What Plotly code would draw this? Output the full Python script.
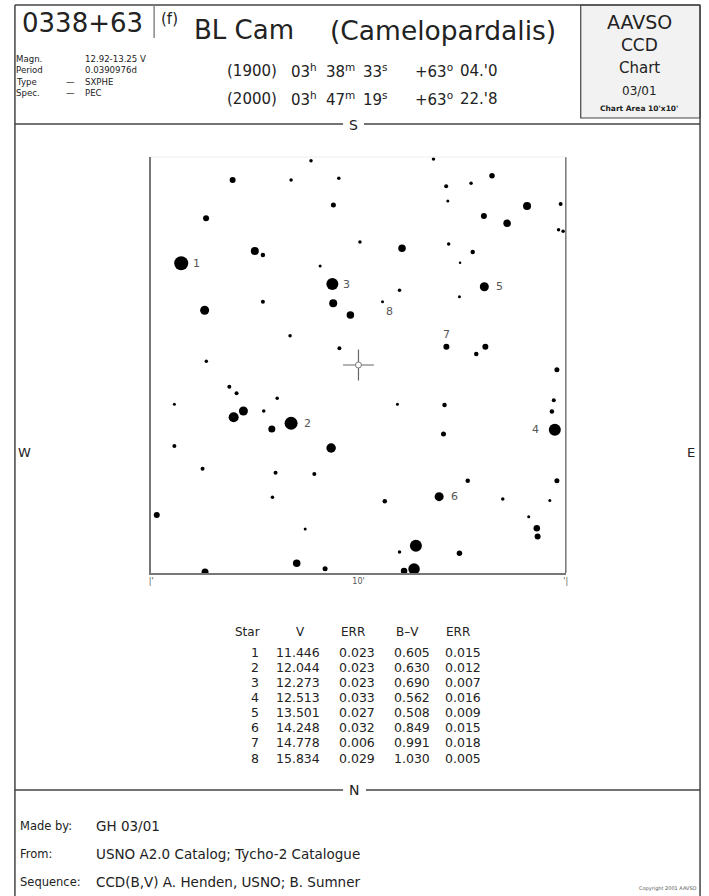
import plotly.graph_objects as go

# ---------------- data ----------------
# field stars: offsets in arcmin (x east->right, y from chart top), visual magnitude estimates
star_x = [7.71, 3.93, 6.75, 9.05, 8.79, 2.65, 10.07, 5.00, 5.39, 1.45,
          8.15, 8.74, 5.39, 8.78, 2.58, 9.61, 6.70, 9.08, 2.66, 13.62,
          16.44, 14.23, 15.43, 14.31, 18.13, 19.75, 16.05, 17.17, 19.65, 19.87,
          12.10, 14.35, 15.51, 14.90, 16.07, 11.98, 14.87, 11.16, 14.24, 16.12,
          15.68, 3.77, 4.12, 1.12, 6.08, 5.43, 4.45, 3.98, 5.82, 6.75,
          8.68, 1.12, 2.48, 6.00, 7.87, 5.85, 0.27, 7.43, 7.02, 8.39,
          2.60, 19.57, 11.88, 14.15, 19.42, 19.33, 19.47, 14.10, 15.27, 19.57,
          13.89, 11.27, 16.96, 19.23, 18.21, 18.60, 18.64, 12.77, 11.98, 14.87,
          12.68, 12.20]
star_y = [0.18, 1.11, 1.11, 1.02, 2.31, 2.95, 4.09, 4.52, 4.71, 5.11,
          5.24, 6.11, 6.96, 7.03, 7.37, 7.60, 8.59, 9.20, 9.82, 0.10,
          0.90, 1.41, 1.26, 2.12, 2.36, 2.26, 2.84, 3.19, 3.50, 3.57,
          4.39, 4.18, 4.57, 5.08, 6.24, 6.41, 6.72, 6.96, 9.12, 9.12,
          9.47, 11.04, 11.36, 11.89, 11.60, 12.21, 12.21, 12.51, 13.08, 12.80,
          13.99, 13.89, 14.99, 15.18, 15.24, 16.36, 17.21, 17.88, 19.53, 19.79,
          19.95, 10.23, 11.89, 11.92, 11.70, 12.23, 13.11, 13.32, 15.56, 15.56,
          16.33, 16.55, 16.44, 16.52, 17.29, 17.85, 18.25, 18.69, 18.99, 19.05,
          19.81, 19.90]
star_mag = [15.6, 14.6, 15.6, 15.6, 15.0, 14.6, 15.6, 13.8, 15.2, 11.4,
            15.8, 12.2, 15.4, 13.8, 13.4, 14.0, 15.6, 15.4, 15.6, 15.6,
            14.8, 15.4, 15.6, 15.8, 13.8, 15.4, 14.6, 14.0, 15.6, 15.6,
            14.0, 15.6, 15.2, 16.0, 13.4, 15.6, 15.8, 15.8, 14.6, 14.6,
            15.2, 15.4, 15.4, 15.8, 15.6, 15.6, 13.4, 13.0, 14.2, 11.8,
            13.2, 15.4, 15.4, 15.4, 15.4, 15.6, 14.6, 15.8, 14.0, 15.0,
            14.2, 15.0, 15.8, 15.2, 15.4, 15.2, 12.2, 15.0, 15.2, 15.0,
            13.4, 15.2, 15.6, 15.8, 15.8, 14.4, 14.6, 12.2, 15.6, 14.8,
            12.4, 14.4]

# variable star position (arcmin)
var_x = [10.0]
var_y = [10.0]

# comparison sequence
comp_ids = [1, 2, 3, 4, 5, 6, 7, 8]
comp_star_index = [9, 49, 11, 66, 34, 70, 38, 37]
comp_v = [11.446, 12.044, 12.273, 12.513, 13.501, 14.248, 14.778, 15.834]
comp_v_err = [0.023, 0.023, 0.023, 0.033, 0.027, 0.032, 0.006, 0.029]
comp_bv = [0.605, 0.630, 0.690, 0.562, 0.508, 0.849, 0.991, 1.030]
comp_bv_err = [0.015, 0.012, 0.007, 0.016, 0.009, 0.015, 0.018, 0.005]

x_tick_vals = [0, 10, 20]
x_tick_text = ["|'", "10'", "'|"]

# ---------------- styling helpers ----------------
W, H = 709, 896
FONT = "DejaVu Sans"
TXT = "#222222"
PAD = 3  # annotation inner padding compensation


def px(x):
    return x / W


def py(y):
    return 1 - y / H


def mag_to_size(m):
    return max(2.5, 14 - 2.5 * (m - 11.4))


label_offset = {1: (15, 0), 2: (16, 0), 3: (14, 0), 4: (-19, 0),
                5: (15, 0), 6: (15, 0), 7: (0, 12), 8: (7, -10)}

fig = go.Figure()

fig.add_trace(go.Scatter(
    x=star_x, y=star_y, mode="markers",
    marker=dict(size=[mag_to_size(m) for m in star_mag], color="black",
                opacity=1, line=dict(width=0)),
    hoverinfo="skip", showlegend=False))

# variable crosshair
fig.add_trace(go.Scatter(
    x=var_x, y=var_y, mode="markers",
    marker=dict(symbol="cross-thin-open", size=22, color="#666666",
                opacity=1, line=dict(color="#666666", width=1.2)),
    hoverinfo="skip", showlegend=False))
fig.add_trace(go.Scatter(
    x=var_x, y=var_y, mode="markers",
    marker=dict(symbol="circle", size=6, color="white", opacity=1,
                line=dict(color="#777777", width=1)),
    hoverinfo="skip", showlegend=False))

annotations = []


def txt(x, y, s, size, anchor="left", color=TXT, bold=False, family=FONT):
    if bold:
        s = "<b>" + s + "</b>"
    if anchor == "left":
        x = x - PAD
    elif anchor == "right":
        x = x + PAD
    annotations.append(dict(x=px(x), y=py(y), xref="paper", yref="paper",
                            text=s, showarrow=False, xanchor=anchor,
                            yanchor="middle", borderpad=0,
                            font=dict(family=family, size=size, color=color)))


# comparison labels on chart
for cid, idx in zip(comp_ids, comp_star_index):
    dx, dy = label_offset[cid]
    annotations.append(dict(x=star_x[idx], y=star_y[idx], xref="x", yref="y",
                            text=str(cid), showarrow=False, xshift=dx, yshift=dy,
                            font=dict(family=FONT, size=11, color="#555555")))

# header
txt(22, 23, "0338+63", 26)
txt(162, 19, "(f)", 15)
txt(195, 30, "BL Cam", 26)
txt(332, 30, "(Camelopardalis)", 26.5)

info_labels = ["Magn.", "Period", "Type", "Spec."]
info_values = ["12.92-13.25 V", "0.0390976d", "SXPHE", "PEC"]
info_dash = [False, False, True, True]
for i, (lab, val, d) in enumerate(zip(info_labels, info_values, info_dash)):
    yy = 59 + i * 11.3
    txt(16, yy, lab, 8.6)
    if d:
        txt(66, yy, "—", 8.6)
    txt(85, yy, val, 8.6)

ra_parts = [["03<sup>h</sup>", "38<sup>m</sup>", "33<sup>s</sup>"],
            ["03<sup>h</sup>", "47<sup>m</sup>", "19<sup>s</sup>"]]
dec_parts = [["+63<sup>o</sup>", "04.'0"], ["+63<sup>o</sup>", "22.'8"]]
epochs = ["(1900)", "(2000)"]
for i in range(2):
    yy = 71 + i * 28
    txt(228, yy, epochs[i], 15)
    for s, xx in zip(ra_parts[i], [293, 328, 365]):
        txt(xx, yy, s, 15)
    for s, xx in zip(dec_parts[i], [417, 463]):
        txt(xx, yy, s, 15)

txt(641, 22, "AAVSO", 19, "center")
txt(641, 45, "CCD", 17, "center")
txt(641, 68, "Chart", 15, "center")
txt(641, 91, "03/01", 12, "center")
txt(641, 108.5, "Chart Area 10'x10'", 7.5, "center", bold=True)

txt(353, 125, "S", 14, "center")
txt(354, 790, "N", 14, "center")
txt(18, 452, "W", 13)
txt(693, 452, "E", 13, "center")

# table
col_head = ["Star", "V", "ERR", "B–V", "ERR"]
col_head_x = [247, 300, 353, 408, 459]
col_right = [256, 318, 373, 428, 480]
for h, xx in zip(col_head, col_head_x):
    txt(xx, 632, h, 12, "center")
for i in range(len(comp_ids)):
    yy = 652 + i * 15.15
    vals = [str(comp_ids[i]), f"{comp_v[i]:.3f}", f"{comp_v_err[i]:.3f}",
            f"{comp_bv[i]:.3f}", f"{comp_bv_err[i]:.3f}"]
    for v, xr in zip(vals, col_right):
        txt(xr, yy, v, 12.5, "right")

# footer
foot_labels = ["Made by:", "From:", "Sequence:"]
foot_values = ["GH 03/01", "USNO A2.0 Catalog; Tycho-2 Catalogue",
               "CCD(B,V) A. Henden, USNO; B. Sumner"]
for i, (lab, val) in enumerate(zip(foot_labels, foot_values)):
    yy = 826 + i * 28
    txt(20, yy, lab, 11.5)
    txt(97, yy, val, 13.5)
txt(670, 888, "Copyright 2001 AAVSO", 5, "center", color="#555555")

# frame shapes (paper pixel coordinates)
shapes = []
LC = "#444444"


def line(x0, y0, x1, y1, color=LC, width=1.5):
    shapes.append(dict(type="line", xref="paper", yref="paper",
                       x0=px(x0), y0=py(y0), x1=px(x1), y1=py(y1),
                       line=dict(color=color, width=width)))


shapes.append(dict(type="rect", xref="paper", yref="paper",
                   x0=px(582), y0=py(118), x1=px(702), y1=py(5),
                   fillcolor="#f2f2f2", line=dict(color=LC, width=1.2),
                   layer="below"))
line(13, 5, 702, 5)
line(13, 5, 13, 896)
line(702, 5, 702, 896)
line(153, 5, 153, 38, color="#888888", width=1.5)
line(13, 124, 343, 124)
line(364, 124, 702, 124)
line(13, 790, 343, 790)
line(366, 790, 702, 790)

# plot area right and top borders
shapes.append(dict(type="line", xref="x domain", yref="y domain",
                   x0=1, x1=1, y0=0, y1=1,
                   line=dict(color="#777777", width=1.5)))
shapes.append(dict(type="line", xref="x domain", yref="y domain",
                   x0=0, x1=1, y0=1, y1=1,
                   line=dict(color="#eeeeee", width=1)))

fig.update_layout(
    width=W, height=H,
    margin=dict(l=0, r=0, t=0, b=0),
    paper_bgcolor="white", plot_bgcolor="white",
    annotations=annotations, shapes=shapes,
    xaxis=dict(domain=[px(150), px(567)], range=[0, 20],
               showgrid=False, zeroline=False, showline=True,
               linecolor="#777777", linewidth=1.5,
               tickvals=x_tick_vals, ticktext=x_tick_text, ticks="",
               tickfont=dict(family=FONT, size=8, color="#555555")),
    yaxis=dict(domain=[py(573), py(157)], range=[20, 0],
               showgrid=False, zeroline=False, showline=True,
               linecolor="#777777", linewidth=1.5,
               showticklabels=False, ticks=""),
)

fig.write_html("out.html", config={"displayModeBar": False},
               post_script="document.body.style.margin='0';document.body.style.padding='0';")
